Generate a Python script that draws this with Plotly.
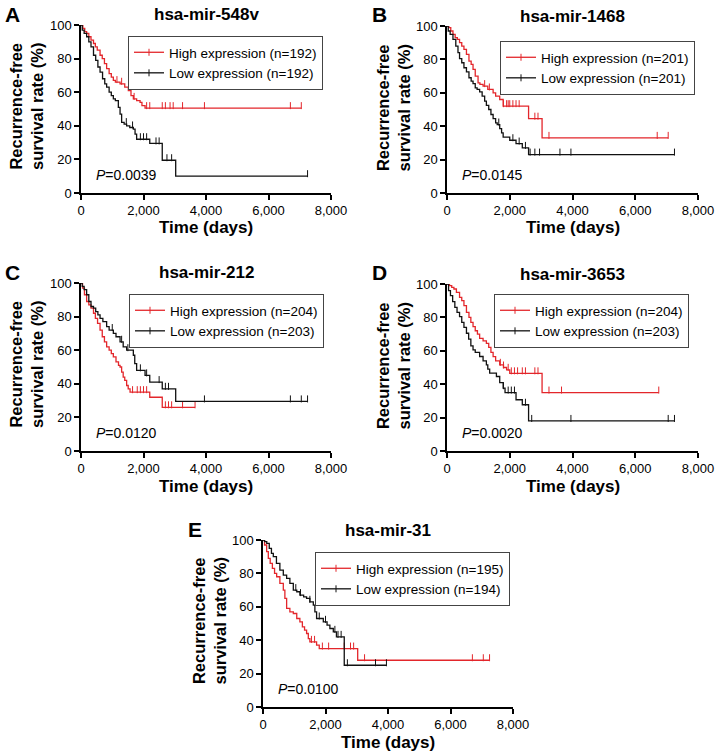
import plotly.graph_objects as go

W, H = 720, 754
RED = "#e3262b"
BLACK = "#111111"
FONT = "Arial, Liberation Sans, sans-serif"

# ---- data (time in days, survival in %) ----
x_ticks = [0, 2000, 4000, 6000, 8000]
x_ticklabels = ["0", "2,000", "4,000", "6,000", "8,000"]
y_ticks = [0, 20, 40, 60, 80, 100]

titles = ["hsa-mir-548v", "hsa-mir-1468", "hsa-mir-212", "hsa-mir-3653", "hsa-mir-31"]
letters = ["A", "B", "C", "D", "E"]
p_values = ["0.0039", "0.0145", "0.0120", "0.0020", "0.0100"]
n_high = [192, 201, 204, 204, 195]
n_low = [192, 201, 203, 203, 194]

# A
a_high_t = [0, 60, 120, 180, 250, 320, 400, 460, 520, 610, 680, 750, 820, 900, 970, 1035, 1100, 1250, 1400, 1515, 1600, 1675, 1780, 1890, 1950, 2050, 7050]
a_high_s = [100, 98, 96, 95, 93, 91, 89, 87, 85, 82, 80, 77, 74, 71, 69, 67, 66, 65, 63, 61, 58, 56, 55, 54, 52, 50.5, 50.5]
a_high_c = [1150, 1300, 1700, 2100, 2200, 2600, 2700, 2850, 2950, 3250, 3950, 6700, 7050]
a_low_t = [0, 40, 100, 180, 250, 320, 400, 470, 540, 610, 690, 760, 820, 900, 970, 1035, 1100, 1195, 1250, 1300, 1380, 1460, 1560, 1675, 1730, 1780, 2200, 2600, 3030, 7250]
a_low_s = [100, 97, 95, 93, 90, 87, 82, 79, 75, 72, 68, 65, 63, 60, 58, 56, 55, 51, 47, 42, 41, 40, 39, 38, 35, 32, 29.5, 19.5, 10, 10]
a_low_c = [1450, 1650, 1900, 2000, 2100, 2400, 2500, 2750, 2900, 7250]

# B
b_high_t = [0, 60, 120, 190, 260, 330, 400, 470, 540, 620, 700, 770, 830, 900, 990, 1050, 1150, 1300, 1470, 1550, 1680, 1790, 2600, 3030, 7050]
b_high_s = [100, 99, 97, 95, 93, 92, 90, 88, 86, 83, 79, 77, 74, 70, 66, 65, 64, 62, 60, 58, 56, 52, 44.5, 33, 33]
b_high_c = [1200, 1350, 1800, 1900, 1950, 2000, 2100, 2200, 2300, 2800, 2900, 3250, 6700, 7050]
b_low_t = [0, 40, 100, 190, 280, 350, 400, 470, 540, 620, 700, 770, 830, 900, 960, 1040, 1120, 1200, 1255, 1330, 1400, 1470, 1550, 1600, 1680, 1740, 1790, 2000, 2200, 2400, 2600, 7250]
b_low_s = [100, 97, 95, 92, 88, 84, 80.5, 78, 75, 72.5, 69, 67, 65.5, 63, 62, 60.5, 58, 55, 52.5, 50, 47, 44.5, 42, 41, 38.5, 36, 33.5, 31.6, 29.6, 27, 23, 23]
b_low_c = [1650, 2100, 2300, 2500, 2650, 2800, 2950, 3600, 3950, 7250]

# C
c_high_t = [0, 50, 110, 180, 250, 320, 400, 460, 530, 610, 680, 750, 820, 900, 970, 1035, 1120, 1200, 1250, 1300, 1350, 1400, 1460, 1510, 1570, 2200, 2600, 3650]
c_high_s = [100, 97, 93, 89, 87, 85, 82, 79, 76, 72, 68, 65, 62, 60, 58, 56, 53, 51, 50, 47, 44, 42, 39, 37, 35, 32, 26, 26]
c_high_c = [1650, 1800, 1900, 2000, 2100, 2700, 2800, 2900, 3250, 3650]
c_low_t = [0, 40, 100, 180, 250, 320, 400, 470, 540, 610, 700, 820, 900, 1035, 1120, 1250, 1350, 1460, 1675, 1720, 1780, 2050, 2200, 2600, 3030, 7250]
c_low_s = [100, 98, 96, 93, 89, 86, 85, 83, 81, 79, 77, 74, 72, 70, 68, 65, 62, 60, 57, 52, 48, 45, 41, 37, 29.5, 29.5]
c_low_c = [1000, 1300, 1500, 1900, 2100, 2500, 2700, 2800, 3950, 6700, 7050, 7250]

# D
d_high_t = [0, 80, 150, 220, 300, 400, 470, 540, 620, 700, 760, 830, 900, 970, 1040, 1150, 1255, 1330, 1400, 1470, 1550, 1680, 1800, 1900, 2000, 3030, 6750]
d_high_s = [100, 99, 98, 97, 95, 92, 90, 87, 83, 80, 77, 74.5, 72, 70, 67.5, 66, 64.5, 62, 59, 56.5, 54, 51.6, 50, 48.6, 46.5, 35, 35]
d_high_c = [1700, 1800, 1950, 2050, 2150, 2250, 2400, 2500, 2800, 2900, 3250, 3650, 6750]
d_low_t = [0, 50, 110, 180, 250, 320, 400, 470, 540, 620, 690, 760, 830, 900, 1040, 1150, 1255, 1300, 1360, 1575, 1680, 1790, 1850, 2200, 2400, 2600, 7250]
d_low_s = [100, 96, 93, 89.4, 86, 83, 80.5, 77, 74, 70.5, 67, 63, 60.5, 59, 56.6, 54, 51.6, 49, 46.6, 44.6, 41, 37.6, 35, 30.7, 27.7, 18, 18]
d_low_c = [1800, 1950, 2050, 2150, 2500, 2700, 3950, 7050, 7250]

# E
e_high_t = [0, 50, 117, 170, 230, 300, 370, 437, 540, 650, 700, 756, 860, 970, 1080, 1180, 1260, 1330, 1395, 1450, 1500, 1715, 1800, 3030, 7250]
e_high_s = [100, 97, 93, 89, 86, 83, 80, 78, 74, 70, 65, 59, 57, 56, 53, 51, 48, 46, 44, 41, 39, 37, 35, 28, 28]
e_high_c = [1550, 1650, 1900, 2100, 2600, 2800, 2900, 3250, 6700, 7050, 7250]
e_low_t = [0, 50, 120, 200, 270, 330, 430, 540, 650, 756, 860, 970, 1080, 1180, 1300, 1395, 1500, 1610, 1660, 1715, 1930, 2050, 2140, 2250, 2350, 2600, 3950]
e_low_s = [100, 99, 98, 95, 92, 90, 86, 82, 79, 77, 74, 70, 69, 67, 66, 65, 63, 61, 57, 53, 51, 49, 47, 45, 42, 25, 25]
e_low_c = [1050, 1200, 1500, 1800, 2000, 2300, 2400, 2500, 2700, 3600, 3950]

curves = [
    (a_high_t, a_high_s, a_high_c, a_low_t, a_low_s, a_low_c),
    (b_high_t, b_high_s, b_high_c, b_low_t, b_low_s, b_low_c),
    (c_high_t, c_high_s, c_high_c, c_low_t, c_low_s, c_low_c),
    (d_high_t, d_high_s, d_high_c, d_low_t, d_low_s, d_low_c),
    (e_high_t, e_high_s, e_high_c, e_low_t, e_low_s, e_low_c),
]

# ---- layout: plot boxes in pixels (left, right, top, bottom) ----
boxes = [
    (81, 331, 25, 193),
    (447, 698, 26, 193),
    (81, 331, 283, 451),
    (447, 698, 284, 451),
    (263, 513, 540, 707),
]
# legend box top-left in pixels
legend_pos = [(128, 36), (500, 41), (129, 294), (494, 294), (315, 552)]
tick_lift = 1.5  # censor ticks sit on top of the curve (GraphPad style)


def px_x(v):
    return v / W


def px_y(v):
    return 1 - v / H


def surv_at(t, times, surv):
    s = surv[0]
    for tt, ss in zip(times, surv):
        if tt <= t:
            s = ss
    return s


fig = go.Figure()
layout = dict(
    width=W, height=H, margin=dict(l=0, r=0, t=0, b=0, autoexpand=False),
    paper_bgcolor="white", plot_bgcolor="white",
    font=dict(family=FONT, color="black"),
    showlegend=True, annotations=[],
)

for i in range(5):
    k = "" if i == 0 else str(i + 1)
    xa, ya = "x" + k, "y" + k
    lg = "legend" + k
    l, r, t, b = boxes[i]
    ht, hs, hc, lt, ls, lc = curves[i]

    for times, surv, cens, col, name in [
        (ht, hs, hc, RED, "High expression (n=%d)" % n_high[i]),
        (lt, ls, lc, BLACK, "Low expression (n=%d)" % n_low[i]),
    ]:
        fig.add_trace(go.Scatter(x=times, y=surv, mode="lines", line=dict(color=col, width=1.3, shape="hv"),
                                 xaxis=xa, yaxis=ya, showlegend=False, hoverinfo="skip"))
        fig.add_trace(go.Scatter(x=cens, y=[surv_at(c, times, surv) + tick_lift for c in cens], mode="markers",
                                 marker=dict(symbol="line-ns", size=5, color=col, line=dict(color=col, width=1)),
                                 xaxis=xa, yaxis=ya, showlegend=False, hoverinfo="skip", cliponaxis=False))
        # legend entry
        fig.add_trace(go.Scatter(x=[None], y=[None], mode="lines+markers", name=name,
                                 line=dict(color=col, width=1.3),
                                 marker=dict(symbol="line-ns", size=5, color=col, line=dict(color=col, width=1)),
                                 xaxis=xa, yaxis=ya, legend=lg))

    axis_common = dict(showline=True, linecolor="black", linewidth=1.5, ticks="outside", ticklen=5,
                       tickwidth=1.5, tickcolor="black", showgrid=False, zeroline=False,
                       tickfont=dict(family=FONT, size=13, color="black"), fixedrange=True)
    layout["xaxis" + k] = dict(axis_common, domain=[px_x(l), px_x(r)], anchor=ya, range=[0, 8000],
                               tickvals=x_ticks, ticktext=x_ticklabels)
    layout["yaxis" + k] = dict(axis_common, domain=[px_y(b), px_y(t)], anchor=xa, range=[0, 100],
                               tickvals=y_ticks)

    lx, ly = legend_pos[i]
    layout[lg] = dict(x=px_x(lx), y=px_y(ly), xanchor="left", yanchor="top",
                      bgcolor="white", bordercolor="#444", borderwidth=1,
                      font=dict(family=FONT, size=13.5, color="black"),
                      tracegroupgap=0, itemwidth=30)

    ann = layout["annotations"]
    cx = (l + r) / 2
    # panel title
    ann.append(dict(text="<b>%s</b>" % titles[i], x=px_x(cx), y=px_y(t - 10), xref="paper", yref="paper",
                    showarrow=False, xanchor="center", yanchor="middle", font=dict(size=17)))
    # panel letter
    ann.append(dict(text="<b>%s</b>" % letters[i], x=px_x(l - 68), y=px_y(t - 11), xref="paper", yref="paper",
                    showarrow=False, xanchor="center", yanchor="middle", font=dict(size=21)))
    # y title
    ann.append(dict(text="<b>Recurrence-free<br>survival rate (%)</b>", x=px_x(l - 54), y=px_y((t + b) / 2 - 2),
                    xref="paper", yref="paper", showarrow=False, textangle=-90,
                    xanchor="center", yanchor="middle", font=dict(size=16.5)))
    # x title
    ann.append(dict(text="<b>Time (days)</b>", x=px_x(cx), y=px_y(b + 35), xref="paper", yref="paper",
                    showarrow=False, xanchor="center", yanchor="middle", font=dict(size=17)))
    # p value
    ann.append(dict(text="<i>P</i>=%s" % p_values[i], x=420, y=11, xref=xa, yref=ya,
                    showarrow=False, xanchor="left", yanchor="middle", font=dict(size=14)))

fig.update_layout(**layout)
fig.write_html("out.html", config={"displayModeBar": False},
               post_script="document.body.style.margin='0px';")
